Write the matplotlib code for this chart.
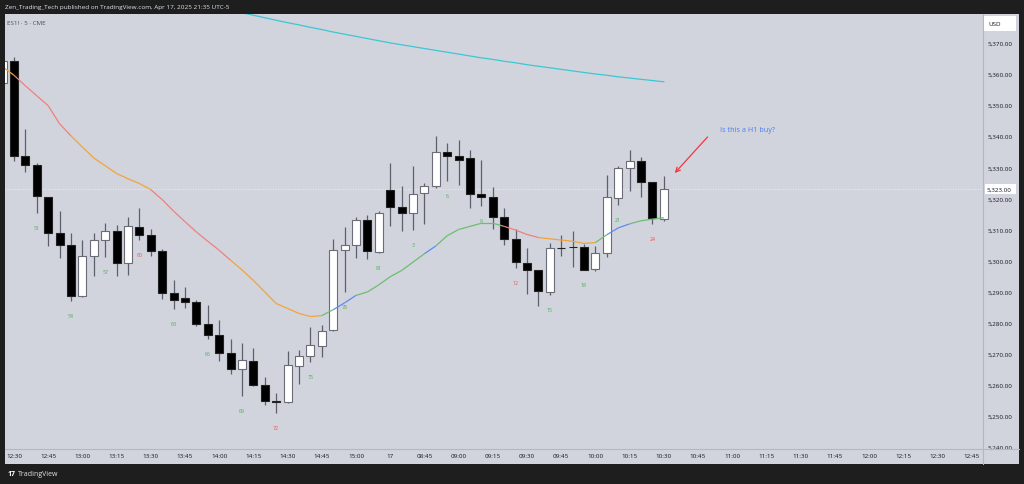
import numpy as np
import matplotlib.pyplot as plt
from matplotlib.collections import LineCollection
from matplotlib.patches import Rectangle
from matplotlib.lines import Line2D

plt.rcParams['font.family'] = ['Open Sans', 'DejaVu Sans']

# ES1! 5 min, 12:25 (cut off) .. 15:10, then 08:30 .. 10:30 (RTH only)
bar_start = -1
opens = [5357.1, 5364.2, 5333.5, 5330.8, 5320.5, 5308.8, 5304.9, 5288.6, 5301.4, 5306.5,
         5309.5, 5299.1, 5310.7, 5308.3, 5303.1, 5289.7, 5288.0, 5286.6, 5279.7, 5276.0,
         5270.3, 5265.2, 5267.7, 5259.9, 5254.9, 5254.4, 5266.0, 5269.4, 5272.5, 5277.6,
         5303.3, 5305.0, 5313.1, 5302.6,
         5322.7, 5317.1, 5315.2, 5321.7, 5324.1, 5334.8, 5333.7, 5332.9, 5321.5, 5320.5,
         5313.9, 5306.8, 5299.3, 5297.0, 5289.9, 5304.0, 5304.3, 5304.4, 5297.3, 5302.4,
         5320.0, 5329.7, 5332.1, 5325.2, 5313.5]
highs = [5365.0, 5365.4, 5342.3, 5331.3, 5320.6, 5315.8, 5308.9, 5306.5, 5308.9, 5312.0,
         5311.5, 5314.0, 5316.9, 5310.2, 5303.6, 5293.8, 5291.6, 5287.3, 5285.8, 5280.9,
         5274.8, 5273.5, 5272.0, 5262.4, 5257.4, 5271.0, 5271.3, 5278.5, 5279.3, 5306.9,
         5310.7, 5314.1, 5314.7, 5315.8,
         5331.4, 5324.1, 5330.5, 5324.9, 5340.0, 5337.8, 5338.8, 5335.6, 5332.5, 5323.6,
         5316.8, 5310.2, 5303.9, 5297.1, 5305.6, 5308.2, 5309.4, 5305.2, 5304.8, 5327.5,
         5330.3, 5335.6, 5333.3, 5325.3, 5327.1]
lows = [5356.0, 5332.1, 5328.4, 5315.3, 5304.6, 5300.8, 5287.1, 5288.2, 5295.1, 5301.2,
        5295.0, 5295.5, 5306.5, 5301.4, 5287.6, 5284.4, 5284.6, 5279.0, 5274.8, 5267.8,
        5263.5, 5256.4, 5259.6, 5253.6, 5250.9, 5254.3, 5260.4, 5267.3, 5269.1, 5277.5,
        5289.8, 5300.8, 5300.5, 5302.5,
        5311.0, 5309.6, 5309.8, 5311.7, 5323.3, 5325.5, 5324.4, 5317.0, 5317.5, 5310.2,
        5305.0, 5297.7, 5289.2, 5285.5, 5288.9, 5301.4, 5298.0, 5297.0, 5296.7, 5301.2,
        5318.0, 5322.3, 5320.4, 5311.7, 5312.8]
closes = [5364.2, 5333.5, 5330.8, 5320.8, 5308.8, 5304.9, 5288.6, 5301.4, 5306.5, 5309.4,
          5299.1, 5311.0, 5308.3, 5303.0, 5289.7, 5287.4, 5286.8, 5279.7, 5276.0, 5270.2,
          5265.0, 5268.1, 5260.0, 5254.8, 5254.5, 5266.3, 5269.4, 5272.8, 5277.2, 5303.3,
          5305.0, 5313.1, 5303.0, 5315.2,
          5317.1, 5315.2, 5321.5, 5324.1, 5334.8, 5333.7, 5332.5, 5321.3, 5320.4, 5313.9,
          5307.0, 5299.4, 5297.0, 5290.2, 5303.9, 5304.0, 5304.3, 5297.0, 5302.3, 5320.4,
          5329.7, 5332.1, 5325.2, 5313.8, 5323.0]

# fast EMA, one value per bar (same bars as above)
ema = [5362.3, 5359.6, 5356.2, 5353.0, 5349.8, 5344.0, 5340.1, 5336.5, 5333.0, 5330.5,
       5328.0, 5326.3, 5324.8, 5322.8, 5319.6, 5315.9, 5312.5, 5309.2, 5306.2, 5303.3,
       5300.1, 5297.0, 5293.6, 5289.9, 5286.2, 5284.6, 5283.0, 5282.0, 5282.3, 5284.2,
       5286.4, 5288.8, 5289.9, 5292.2,
       5294.8, 5296.8, 5299.5, 5302.2, 5304.7, 5308.0, 5310.0, 5311.0, 5312.0, 5312.0,
       5311.0, 5309.8, 5308.4, 5307.4, 5307.0, 5306.6, 5306.2, 5305.5, 5305.8, 5308.3,
       5310.5, 5311.8, 5312.8, 5313.3, 5313.8]
# (first bar, colour) runs of the EMA line
ema_runs = [(-1, '#f2a33a'), (0, '#f07f7f'), (5, '#f2a33a'), (12, '#f07f7f'), (19, '#f2a33a'),
            (27, '#6dbd70'), (28, '#5b8def'), (30, '#6dbd70'), (36, '#5b8def'), (37, '#6dbd70'),
            (43, '#f07f7f'), (46, '#f2a33a'), (51, '#6dbd70'), (52, '#5b8def'), (54, '#6dbd70')]

# slow MA (cyan), from bar 16
slow_start = 16
slow_ma = [5383.0, 5382.2, 5381.3, 5380.5, 5379.7, 5378.9, 5378.1, 5377.3, 5376.5, 5375.8,
           5375.0, 5374.3, 5373.5, 5372.8, 5372.1, 5371.4, 5370.7, 5370.0, 5369.4, 5368.8,
           5368.2, 5367.6, 5367.0, 5366.4, 5365.8, 5365.2, 5364.7, 5364.1, 5363.6, 5363.0,
           5362.5, 5362.0, 5361.5, 5361.0, 5360.5, 5360.0, 5359.6, 5359.1, 5358.7, 5358.3,
           5357.9, 5357.5]

# bar counts printed under the lows
count_bars = [2, 5, 8, 11, 14, 17, 20, 23, 26, 29, 32, 35, 38, 41, 44, 47, 50, 53, 56]
count_text = [51, 54, 57, 60, 63, 66, 69, 72, 75, 78, 81, 3, 6, 9, 12, 15, 18, 21, 24]

time_labels = ['12:30', '12:45', '13:00', '13:15', '13:30', '13:45', '14:00', '14:15', '14:30',
               '14:45', '15:00', '17', '08:45', '09:00', '09:15', '09:30', '09:45', '10:00',
               '10:15', '10:30', '10:45', '11:00', '11:15', '11:30', '11:45', '12:00', '12:15',
               '12:30', '12:45']
price_ticks = list(range(5240, 5371, 10))
last_price = 5323.0

note_text = 'Is this a H1 buy?'
note_xy = (61.9, 5342.3)
arrow_from = (61.0, 5340.4)
arrow_to = (57.8, 5327.5)

W, H = 1024, 485
fig = plt.figure(figsize=(W / 100, H / 100), dpi=100, facecolor='#1e1e1e')


def fy(py):
    return 1 - py / H


bg = fig.add_axes([5 / W, fy(465), (1019 - 5) / W, (465 - 15) / H])
bg.set_facecolor('#d1d4dc')
bg.set_xticks([])
bg.set_yticks([])
for s in bg.spines.values():
    s.set_visible(False)

ax = fig.add_axes([5 / W, fy(450), (983 - 5) / W, (450 - 15) / H])
ax.set_facecolor('#d1d4dc')
for s in ax.spines.values():
    s.set_visible(False)
ax.set_xlim(-0.79, 85.0)
ax.set_ylim(5239.4, 5379.3)

# separators of the price / time axis
sep = '#b4b7bf'
fig.add_artist(Line2D([983 / W, 983 / W], [fy(15), fy(465)], color=sep, lw=0.8))
fig.add_artist(Line2D([5 / W, 1019 / W], [fy(450), fy(450)], color=sep, lw=0.8))

# candles
x = np.arange(len(opens)) + bar_start
o = np.array(opens)
c = np.array(closes)
up = c > o
bottom = np.minimum(o, c)
height = np.abs(c - o)
ax.vlines(x, lows, highs, color='#5d606b', lw=0.9, zorder=2)
ax.bar(x[up], height[up], bottom=bottom[up], width=0.7, color='white',
       edgecolor='#6a6d78', lw=0.8, zorder=3)
ax.bar(x[~up], height[~up], bottom=bottom[~up], width=0.7, color='black',
       edgecolor='#222222', lw=0.8, zorder=3)

# EMA with colour runs
ex = np.arange(len(ema)) + bar_start
segs = [[(ex[i], ema[i]), (ex[i + 1], ema[i + 1])] for i in range(len(ema) - 1)]
cols = []
for i in range(len(ema) - 1):
    col = ema_runs[0][1]
    for b, cc in ema_runs:
        if ex[i] >= b:
            col = cc
    cols.append(col)
ax.add_collection(LineCollection(segs, colors=cols, lw=0.9, zorder=4))

sx = np.arange(len(slow_ma)) + slow_start
ax.plot(sx, slow_ma, color='#3cc6d6', lw=0.9, zorder=4)

# last price dotted line
ax.axhline(last_price, color='white', lw=0.6, ls=(0, (1, 2)), alpha=0.8, zorder=1)

# bar counts
for b, n in zip(count_bars, count_text):
    col = '#ef5350' if n % 12 == 0 else '#4caf50'
    ax.annotate(str(n), (b, lows[b - bar_start]), xytext=(0, -14.5), textcoords='offset pixels',
                ha='center', va='center', fontsize=3.8, color=col, zorder=5)

# note + arrow
ax.text(note_xy[0], note_xy[1], note_text, color='#4a7ef0', fontsize=5.2,
        ha='left', va='center')
ax.annotate('', xy=arrow_to, xytext=arrow_from,
            arrowprops=dict(arrowstyle='->', color='#f23645', lw=0.9, mutation_scale=8))

# axes ticks
ax.set_xticks(np.arange(len(time_labels)) * 3)
ax.set_xticklabels(time_labels)
ax.yaxis.tick_right()
ax.set_yticks(price_ticks)
ax.set_yticklabels([f'{p:,.2f}' for p in price_ticks])
ax.tick_params(axis='x', length=0, pad=3.2, labelsize=4.5, labelcolor='#131722')
ax.tick_params(axis='y', length=0, pad=3.0, labelsize=4.5, labelcolor='#131722')

# current price tag and currency box (pixel row of the tag from the axis scale)
y0, y1 = ax.get_ylim()
tag_py = 15 + (y1 - last_price) / (y1 - y0) * (450 - 15)
fig.add_artist(Rectangle((985 / W, fy(tag_py + 5)), 31 / W, 10 / H, facecolor='white',
                         edgecolor='none', transform=fig.transFigure, zorder=20))
fig.text(987 / W, fy(tag_py), f'{last_price:,.2f}', fontsize=4.5, color='#131722',
         ha='left', va='center', zorder=21)
fig.add_artist(Rectangle((984 / W, fy(32)), 32 / W, 15 / H, facecolor='white',
                         edgecolor='none', transform=fig.transFigure, zorder=20))
fig.text(988 / W, fy(24.5), 'USD', fontsize=4.5, color='#131722', ha='left', va='center',
         zorder=21)

# header / footer
fig.text(5 / W, fy(8), 'Zen_Trading_Tech published on TradingView.com, Apr 17, 2025 21:35 UTC-5',
         fontsize=4.6, color='#e0e3eb', ha='left', va='center')
fig.text(7 / W, fy(23.5), 'ES1! · 5 · CME', fontsize=4.5, color='#4a4e57', ha='left', va='center')
fig.text(8 / W, fy(475), '17', fontsize=5, color='white', weight='bold', ha='left', va='center')
fig.text(18 / W, fy(475), 'TradingView', fontsize=5, color='#e0e3eb', ha='left', va='center')

fig.savefig('out.png', dpi=100, facecolor=fig.get_facecolor())
